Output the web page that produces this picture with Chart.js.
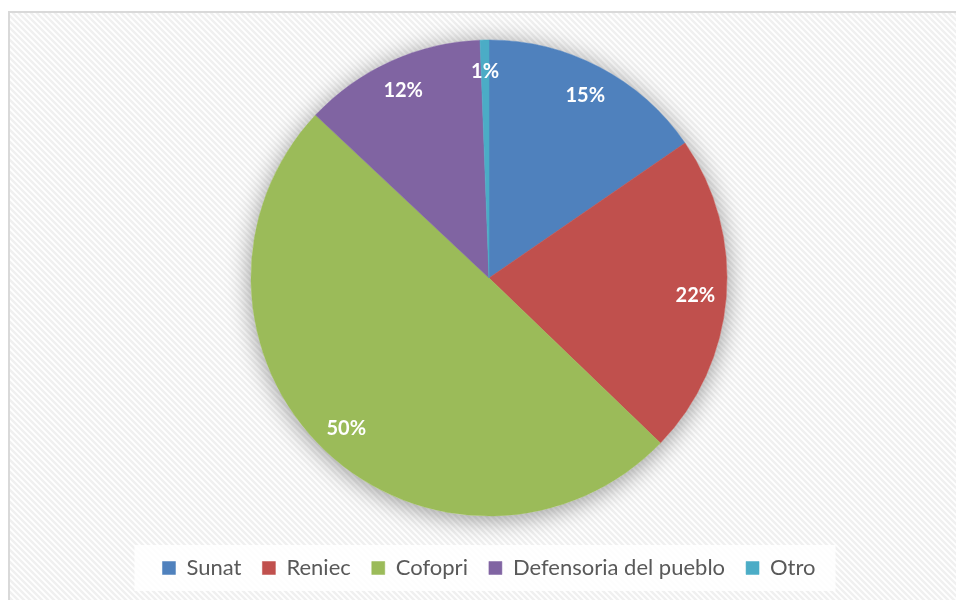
<!DOCTYPE html>
<html>
<head>
<meta charset="utf-8">
<script src="https://cdn.jsdelivr.net/npm/chart.js@4"></script>
<style>
  html, body { margin: 0; padding: 0; background: #fff; overflow: hidden; }
  canvas { display: block; }
</style>
</head>
<body>
<canvas id="pieChart" width="956" height="600"></canvas>
<script>
const categories = ["Sunat", "Reniec", "Cofopri", "Defensoria del pueblo", "Otro"];
const values = [15.4, 21.8, 49.8, 12.4, 0.6];
const colors = ["#4F81BD", "#C0504D", "#9BBB59", "#8064A2", "#4BACC6"];

function stripePattern() {
    const c = document.createElement("canvas");
    c.width = 6; c.height = 6;
    const g = c.getContext("2d");
    g.fillStyle = "#ffffff";
    g.fillRect(0, 0, 6, 6);
    g.strokeStyle = "#f0f0f0";
    g.lineWidth = 2.5;
    g.beginPath();
    g.moveTo(-3, -3); g.lineTo(9, 9);
    g.moveTo(-3, 3); g.lineTo(3, 9);
    g.moveTo(3, -3); g.lineTo(9, 3);
    g.stroke();
    return g.createPattern(c, "repeat");
}

const backdrop = {
    id: "backdrop",
    beforeDraw(chart) {
        const ctx = chart.ctx;
        ctx.save();
        ctx.fillStyle = "#ffffff";
        ctx.fillRect(0, 0, chart.width, chart.height);
        ctx.fillStyle = stripePattern();
        ctx.fillRect(9, 12, chart.width, chart.height);
        // frame: only top and left edges fall inside the picture
        ctx.strokeStyle = "#d9d9d9";
        ctx.lineWidth = 2;
        ctx.beginPath();
        ctx.moveTo(9, chart.height);
        ctx.lineTo(9, 12);
        ctx.lineTo(chart.width, 12);
        ctx.stroke();
        // legend panel
        const lg = chart.legend;
        if (lg && lg.legendHitBoxes && lg.legendHitBoxes.length) {
            const hb = lg.legendHitBoxes;
            const first = hb[0], last = hb[hb.length - 1];
            const x0 = first.left - 28, x1 = last.left + last.width + 20;
            const yc = first.top + first.height / 2;
            ctx.fillStyle = "rgba(255,255,255,0.85)";
            ctx.fillRect(x0, yc - 23, x1 - x0, 46);
        }
        ctx.restore();
    },
    beforeDatasetsDraw(chart) {
        const arc = chart.getDatasetMeta(0).data[0];
        if (!arc) return;
        const ctx = chart.ctx;
        ctx.save();
        ctx.shadowColor = "rgba(0,0,0,0.4)";
        ctx.shadowBlur = 24;
        ctx.shadowOffsetY = 3;
        ctx.fillStyle = "#ffffff";
        ctx.beginPath();
        ctx.arc(arc.x, arc.y, arc.outerRadius, 0, Math.PI * 2);
        ctx.fill();
        ctx.restore();
    },
    afterDatasetsDraw(chart) {
        const ctx = chart.ctx;
        const meta = chart.getDatasetMeta(0);
        const total = values.reduce((a, b) => a + b, 0);
        ctx.save();
        ctx.fillStyle = "#ffffff";
        ctx.font = "bold 20px Lato";
        ctx.textAlign = "center";
        ctx.textBaseline = "middle";
        meta.data.forEach((a, i) => {
            const mid = (a.startAngle + a.endAngle) / 2;
            const r = a.outerRadius * 0.87;
            ctx.fillText(Math.round(values[i] / total * 100) + "%", a.x + Math.cos(mid) * r, a.y + Math.sin(mid) * r + 1);
        });
        ctx.restore();
    }
};

new Chart(document.getElementById("pieChart"), {
    type: "pie",
    data: {
        labels: categories,
        datasets: [{
            data: values,
            backgroundColor: colors,
            borderColor: colors,
            borderWidth: 0.5,
            radius: 238
        }]
    },
    options: {
        responsive: false,
        animation: false,
        layout: {padding: {top: 20, bottom: 11, left: 22, right: 0}},
        plugins: {
            tooltip: {enabled: false},
            legend: {
                position: "bottom",
                labels: {
                    boxWidth: 13,
                    boxHeight: 13,
                    padding: 21,
                    color: "#595959",
                    font: {family: "Lato", size: 22}
                }
            }
        }
    },
    plugins: [backdrop]
});
</script>
</body>
</html>
